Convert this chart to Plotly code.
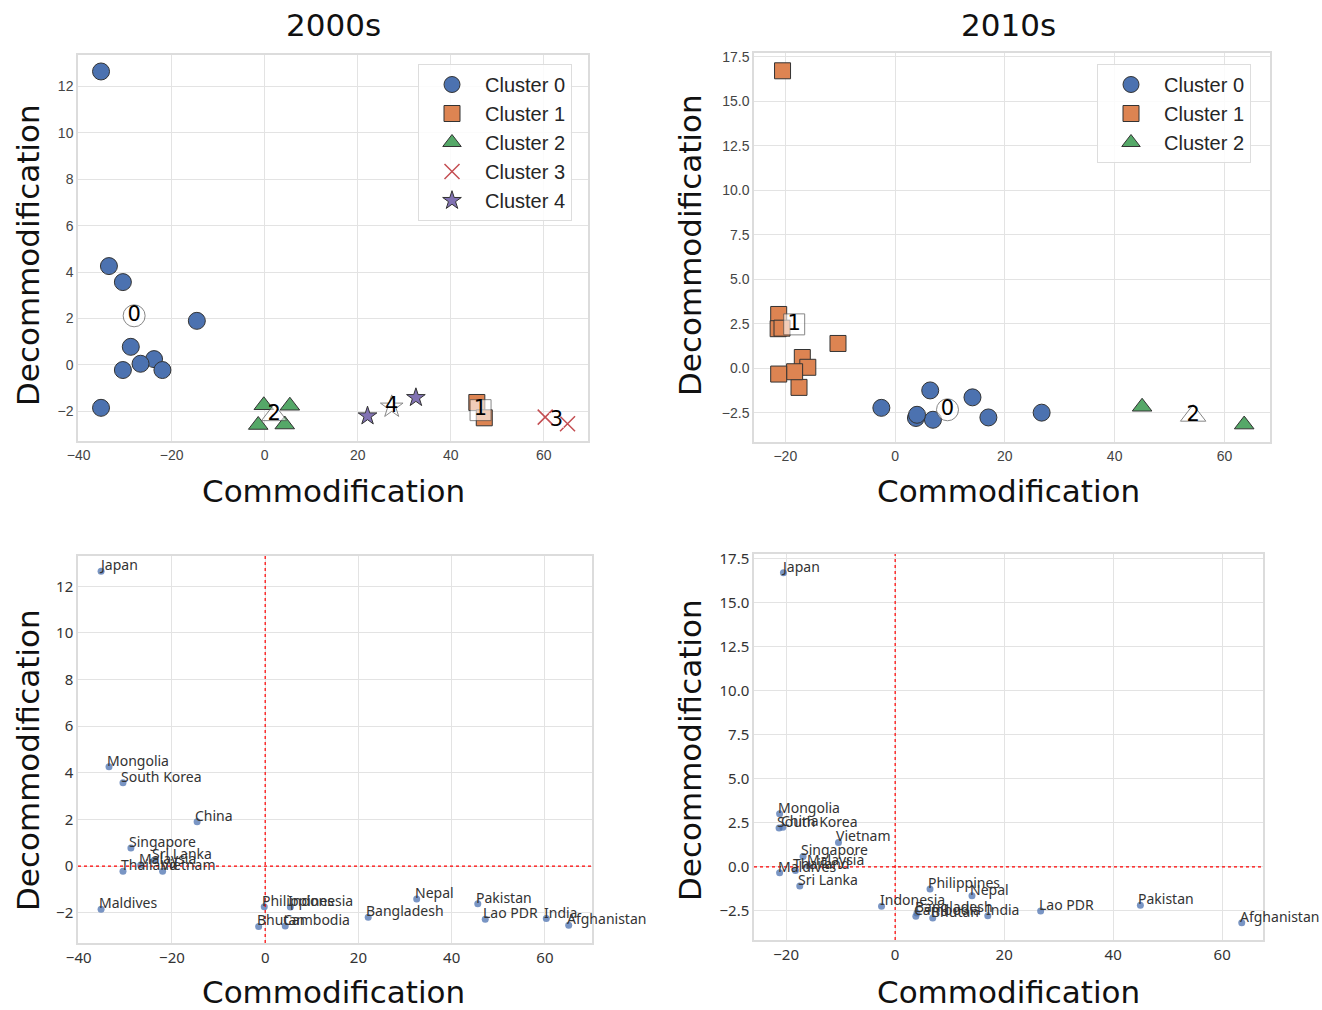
import numpy as np
import plotly.graph_objects as go

countries = ["Japan", "Mongolia", "South Korea", "China", "Singapore", "Sri Lanka",
             "Malaysia", "Thailand", "Vietnam", "Maldives", "Philippines", "Indonesia",
             "Bhutan", "Cambodia", "Bangladesh", "Nepal", "Pakistan", "Lao PDR",
             "India", "Afghanistan"]

# 2000s
x_2000s = [-35.2, -33.5, -30.5, -14.6, -28.8, -23.8, -26.7, -30.5, -22.0, -35.2,
           -0.2, 5.4, -1.4, 4.3, 22.1, 32.5, 45.6, 47.2, 60.3, 65.1]
y_2000s = [12.65, 4.26, 3.57, 1.90, 0.78, 0.25, 0.05, -0.22, -0.22, -1.85,
           -1.74, -1.76, -2.59, -2.57, -2.20, -1.41, -1.62, -2.28, -2.25, -2.54]
cluster_2000s = [0, 0, 0, 0, 0, 0, 0, 0, 0, 0, 2, 2, 2, 2, 4, 4, 1, 1, 3, 3]

# 2010s
x_2010s = [-20.5, -21.2, -21.3, -20.6, -16.9, -17.5, -15.9, -18.3, -10.4, -21.2,
           6.4, -2.5, 6.9, 3.8, 4.0, 14.1, 45.0, 26.7, 17.0, 63.6]
y_2010s = [16.72, 3.02, 2.22, 2.25, 0.60, -1.08, 0.05, -0.20, 1.39, -0.33,
           -1.25, -2.23, -2.90, -2.80, -2.62, -1.64, -2.17, -2.50, -2.77, -3.17]
cluster_2010s = [1, 1, 1, 1, 1, 1, 1, 1, 1, 1, 0, 0, 0, 0, 0, 0, 2, 0, 0, 2]

cluster_names = ["Cluster 0", "Cluster 1", "Cluster 2", "Cluster 3", "Cluster 4"]
cluster_colors = ["#4C72B0", "#DD8452", "#55A868", "#C44E52", "#8172B3"]
cluster_symbols = ["circle", "square", "triangle-up", "x-thin", "star"]
cluster_sizes = [17, 16, 17, 15, 14]
centroid_sizes = [22, 21, 22, 15, 17]

W, H = 1322, 1010


def px_dom(a, b, total):
    return [a / total, b / total]


def py_dom(top, bottom):
    return [1 - bottom / H, 1 - top / H]


fig = go.Figure()


def cluster_traces(xs, ys, cl, xa, ya, legend, n_clusters):
    xs = np.array(xs)
    ys = np.array(ys)
    cl = np.array(cl)
    for k in range(n_clusters):
        m = cl == k
        if k == 3:
            marker = dict(symbol=cluster_symbols[k], size=cluster_sizes[k],
                          color=cluster_colors[k],
                          line=dict(color=cluster_colors[k], width=1.5))
        else:
            marker = dict(symbol=cluster_symbols[k], size=cluster_sizes[k],
                          color=cluster_colors[k],
                          line=dict(color="#333333", width=1))
        fig.add_trace(go.Scatter(x=xs[m], y=ys[m], mode="markers", name=cluster_names[k],
                                 marker=marker, xaxis=xa, yaxis=ya, legend=legend,
                                 showlegend=True))
    # centroids
    cx, cy, sym, txt, sz, lc = [], [], [], [], [], []
    for k in range(n_clusters):
        m = cl == k
        cx.append(xs[m].mean())
        cy.append(ys[m].mean())
        sym.append(cluster_symbols[k])
        txt.append(str(k))
        sz.append(centroid_sizes[k])
        lc.append("#ffffff" if k == 3 else "#555555")
    fig.add_trace(go.Scatter(x=cx, y=cy, mode="markers", showlegend=False,
                             marker=dict(symbol=sym, size=sz, color="rgba(255,255,255,0.85)",
                                         line=dict(color=lc, width=1)),
                             xaxis=xa, yaxis=ya, hoverinfo="skip"))
    fig.add_trace(go.Scatter(x=cx, y=cy, mode="text", text=txt, showlegend=False,
                             textfont=dict(size=21, color="#000000", family="DejaVu Sans"),
                             textposition="middle center",
                             xaxis=xa, yaxis=ya, hoverinfo="skip"))


cluster_traces(x_2000s, y_2000s, cluster_2000s, "x", "y", "legend", 5)
cluster_traces(x_2010s, y_2010s, cluster_2010s, "x2", "y2", "legend2", 3)

# labelled scatter (bottom)
for xs, ys, xa, ya in [(x_2000s, y_2000s, "x3", "y3"), (x_2010s, y_2010s, "x4", "y4")]:
    fig.add_trace(go.Scatter(x=xs, y=ys, mode="markers", showlegend=False,
                             marker=dict(size=7, color="rgba(76,114,176,0.75)"),
                             xaxis=xa, yaxis=ya))
    for xv, yv, name in zip(xs, ys, countries):
        fig.add_annotation(x=xv, y=yv, xref=xa, yref=ya, text=name, showarrow=False,
                           xanchor="left", yanchor="bottom", xshift=-4, yshift=-5,
                           font=dict(size=14, color="#333333", family="Noto Sans"))
    fig.add_shape(type="line", x0=0, x1=0, y0=0, y1=1, xref=xa, yref=ya + " domain",
                  line=dict(color="red", width=1.2, dash="dot"))
    fig.add_shape(type="line", x0=0, x1=1, y0=0, y1=0, xref=xa + " domain", yref=ya,
                  line=dict(color="red", width=1.2, dash="dot"))

axis_common = dict(showgrid=True, gridcolor="#e3e3e3", gridwidth=1.3, zeroline=False,
                   showline=True, mirror=True, linecolor="#dcdcdc", linewidth=1.5,
                   ticks="", tickfont=dict(size=14, color="#444444", family="Liberation Sans"))
bottom_tick = dict(size=15, color="#333333", family="Noto Sans")

legend_common = dict(xanchor="left", yanchor="top",
                     bgcolor="rgba(255,255,255,0.85)", bordercolor="#dddddd", borderwidth=1,
                     font=dict(size=20, color="#262626", family="Liberation Sans"),
                     itemsizing="trace", itemwidth=56)

fig.update_layout(
    width=W, height=H, margin=dict(l=0, r=0, t=0, b=0, autoexpand=False),
    paper_bgcolor="white", plot_bgcolor="white",
    xaxis=dict(domain=px_dom(78, 588, W), range=[-40.15, 69.5], dtick=20, anchor="y", **axis_common),
    yaxis=dict(domain=py_dom(55, 441), range=[-3.28, 13.36], dtick=2, anchor="x", **axis_common),
    xaxis2=dict(domain=px_dom(754, 1270, W), range=[-25.7, 68.3], dtick=20, anchor="y2", **axis_common),
    yaxis2=dict(domain=py_dom(53, 442), range=[-4.15, 17.72], dtick=2.5, tickformat=".1f",
                anchor="x2", **axis_common),
    xaxis3=dict(domain=px_dom(78, 592, W), range=[-40.15, 70.1], dtick=20, anchor="y3",
                **{**axis_common, "tickfont": bottom_tick}),
    yaxis3=dict(domain=py_dom(556, 943), range=[-3.3, 13.3], dtick=2, anchor="x3",
                **{**axis_common, "tickfont": bottom_tick}),
    xaxis4=dict(domain=px_dom(754, 1263, W), range=[-25.9, 67.5], dtick=20, anchor="y4",
                **{**axis_common, "tickfont": bottom_tick}),
    yaxis4=dict(domain=py_dom(554, 940), range=[-4.15, 17.78], dtick=2.5, tickformat=".1f",
                anchor="x4", **{**axis_common, "tickfont": bottom_tick}),
    legend=dict(x=418 / W, y=1 - 64 / H, **legend_common),
    legend2=dict(x=1097 / W, y=1 - 64 / H, **legend_common),
    showlegend=True,
)

title_font = dict(size=31, color="#111111", family="DejaVu Sans")
label_font = dict(size=31, color="#111111", family="DejaVu Sans")
fig.add_annotation(x=333 / W, y=1 - 25 / H, xref="paper", yref="paper", text="2000s",
                   showarrow=False, font=title_font, xanchor="center", yanchor="middle")
fig.add_annotation(x=1008 / W, y=1 - 25 / H, xref="paper", yref="paper", text="2010s",
                   showarrow=False, font=title_font, xanchor="center", yanchor="middle")
for cx, cy in [(333, 491), (1008, 491), (333, 992), (1008, 992)]:
    fig.add_annotation(x=cx / W, y=1 - cy / H, xref="paper", yref="paper", text="Commodification",
                       showarrow=False, font=label_font, xanchor="center", yanchor="middle")
for cx, cy in [(28, 255), (690, 245), (28, 760), (690, 750)]:
    fig.add_annotation(x=cx / W, y=1 - cy / H, xref="paper", yref="paper", text="Decommodification",
                       showarrow=False, font=label_font, xanchor="center", yanchor="middle",
                       textangle=-90)

fig.write_html("out.html")
